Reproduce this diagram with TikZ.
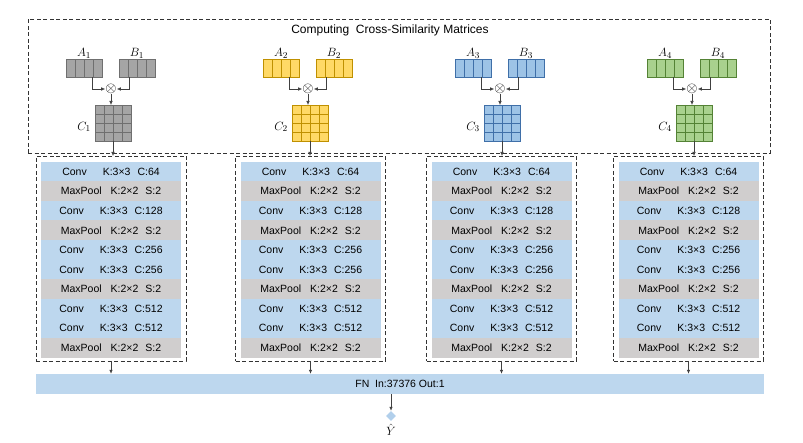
\documentclass[tikz,border=0pt]{standalone}
\usepackage{fontspec}
\setmainfont{Liberation Sans}
\usepackage{tikz}
\usetikzlibrary{arrows.meta,positioning,calc,shapes.geometric}
\definecolor{convblue}{HTML}{BDD7EE}
\definecolor{poolgray}{HTML}{D0CECE}
\definecolor{matgray}{HTML}{A5A5A5}
\definecolor{matgrayd}{HTML}{6F6F6F}
\definecolor{matyellow}{HTML}{FFD966}
\definecolor{matyellowd}{HTML}{BF9000}
\definecolor{matblue}{HTML}{9DC3E6}
\definecolor{matblued}{HTML}{3F6FA8}
\definecolor{matgreen}{HTML}{A9D18E}
\definecolor{matgreend}{HTML}{548235}
\newcommand{\convtxt}[1]{Conv\hspace{16pt}K:3×3\hspace{7pt}C:#1}
\newcommand{\pooltxt}[1]{MaxPool\hspace{9pt}K:2×2\hspace{7pt}S:2}

\begin{document}
\begin{tikzpicture}[x=1pt, y=-1pt,
    frame/.style={draw=black!80, dash pattern=on 4pt off 2.5pt, line width=0.8pt, inner sep=0pt, outer sep=0pt},
    layer/.style={minimum width=140pt, minimum height=19.6pt, inner sep=0pt, font=\fontsize{10.5}{12}\selectfont},
    conv/.style={layer, fill=convblue},
    pool/.style={layer, fill=poolgray},
    vec/.style={minimum width=36pt, minimum height=18pt, inner sep=0pt, outer sep=0pt, line width=0.6pt},
    mat/.style={minimum width=36pt, minimum height=36pt, inner sep=0pt, outer sep=0pt, line width=0.6pt},
    cell/.style={line width=0.6pt},
    lbl/.style={font=\fontsize{12.5}{14}\selectfont, inner sep=1pt},
    link/.style={draw=black!75, line width=0.6pt, -{Latex[length=4pt, width=3.5pt]}},
]
    \useasboundingbox (0,0) rectangle (803,443);

    % cross-similarity part
    \node[frame, minimum width=742pt, minimum height=134pt] (cross) at (399,86) {};
    \node[font=\fontsize{12}{14}\selectfont] (title) at (390,30) {Computing\ \ Cross-Similarity Matrices};

    % FN layer and output
    \node[layer, fill=convblue, minimum width=728pt, minimum height=20pt] (fn) at (400,384) {FN\ \ In:37376 Out:1};
    \node[diamond, fill=matblue!80, inner sep=0pt, minimum size=10pt] (yhat) at (391,416) {};
    \node[lbl, below=2.5pt of yhat, inner sep=0pt] (ylbl) {$\hat{Y}$};
    \draw[link] (yhat |- fn.south) -- (yhat.north);

    \foreach \i/\m/\cx/\fc/\dc in {1/111/111/matgray/matgrayd, 2/308/310.5/matyellow/matyellowd, 3/500/501.5/matblue/matblued, 4/692/688.5/matgreen/matgreend} {
        % A, B and C
        \node[vec, fill=\fc, draw=\dc] (a\i) at (\m-27,68.5) {};
        \node[vec, fill=\fc, draw=\dc] (b\i) at (\m+26,68.5) {};
        \node[mat, fill=\fc, draw=\dc] (c\i) at (\m+2,123) {};
        \foreach \k in {1,2,3} {
            \draw[cell, draw=\dc] ([xshift=\k*9pt]a\i.north west) -- ([xshift=\k*9pt]a\i.south west);
            \draw[cell, draw=\dc] ([xshift=\k*9pt]b\i.north west) -- ([xshift=\k*9pt]b\i.south west);
            \draw[cell, draw=\dc] ([xshift=\k*9pt]c\i.north west) -- ([xshift=\k*9pt]c\i.south west);
            \draw[cell, draw=\dc] ([yshift=-\k*9pt]c\i.north west) -- ([yshift=-\k*9pt]c\i.north east);
        }
        \node[lbl, above=0pt of a\i] (la\i) {$A_\i$};
        \node[lbl, above=0pt of b\i] (lb\i) {$B_\i$};
        \node[lbl, left=3pt of c\i, yshift=-4pt] (lc\i) {$C_\i$};
        \node[inner sep=0pt, font=\fontsize{15}{15}\selectfont] (o\i) at (\m,89) {$\otimes$};
        \draw[link] ([xshift=8pt]a\i.south) |- (o\i.west);
        \draw[link] ([xshift=-8pt]b\i.south) |- (o\i.east);
        \draw[link] (o\i.south) -- (o\i.south |- c\i.north);

        % CNN branch
        \node[frame, minimum width=150pt, minimum height=205pt] (col\i) at (\cx,258.5) {};
        \foreach \t/\c [count=\j] in {conv/64, pool/2, conv/128, pool/2, conv/256, conv/256, pool/2, conv/512, conv/512, pool/2} {
            \node[\t] (r\i-\j) at (\cx,151.9+19.6*\j) {\csname\t txt\endcsname{\c}};
        }
        \draw[link] (c\i.south) -- (c\i.south |- col\i.north);
        \draw[link] (col\i.south) -- (col\i.south |- fn.north);
    }
\end{tikzpicture}
\end{document}
